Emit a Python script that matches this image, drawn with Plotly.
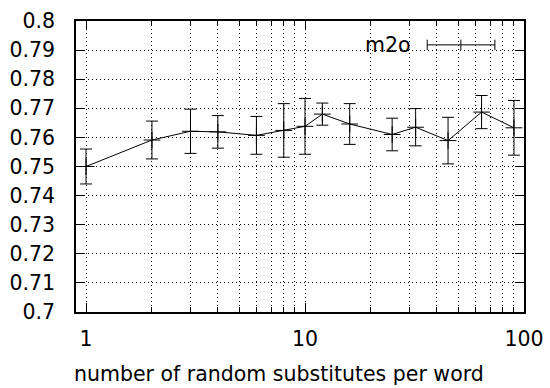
import plotly.graph_objects as go
import math

# data
substitutes = [1, 2, 3, 4, 6, 8, 10, 12, 16, 25, 32, 45, 64, 90]
m2o = [0.7500, 0.7591, 0.7621, 0.7619, 0.7607, 0.7624, 0.7638, 0.7680,
       0.7646, 0.7610, 0.7635, 0.7589, 0.7687, 0.7633]
m2o_err = [0.0060, 0.0065, 0.0076, 0.0056, 0.0065, 0.0092, 0.0096, 0.0038,
           0.0070, 0.0056, 0.0064, 0.0080, 0.0057, 0.0094]

y_ticks = [round(0.70 + 0.01 * i, 2) for i in range(11)]
y_labels = ["0.7", "0.71", "0.72", "0.73", "0.74", "0.75", "0.76", "0.77",
            "0.78", "0.79", "0.8"]
x_ticks = [1, 10, 100]
x_labels = ["1", "10", "100"]
x_minor = [2, 3, 4, 5, 6, 7, 8, 9, 20, 30, 40, 50, 60, 70, 80, 90]
x_title = "number of random substitutes per word"
series_name = "m2o"

FONT = "DejaVu Sans"
FS = 20.5
DOT = "1px,3px"

fig = go.Figure()
fig.add_trace(go.Scatter(
    x=substitutes, y=m2o, mode="lines+markers", name=series_name,
    line=dict(color="black", width=1),
    marker=dict(symbol="cross-thin", size=12, color="black",
                line=dict(color="black", width=1)),
    error_y=dict(type="data", array=m2o_err, visible=True,
                 color="black", thickness=1, width=6),
    showlegend=False,
))

fig.update_layout(
    width=550, height=388,
    margin=dict(l=76, r=26, t=21, b=76),
    paper_bgcolor="white", plot_bgcolor="white",
    font=dict(family=FONT, size=FS, color="black"),
)

fig.update_xaxes(
    type="log", range=[math.log10(0.9), 2], automargin=False,
    tickmode="array", tickvals=x_ticks, ticktext=x_labels,
    ticks="inside", ticklen=9, tickwidth=1, tickcolor="black",
    showline=True, linecolor="black", linewidth=1.5, mirror="allticks",
    showgrid=True, gridcolor="black", gridwidth=1, griddash=DOT,
    minor=dict(tickmode="array", tickvals=x_minor, ticks="inside",
               ticklen=5, tickwidth=1, tickcolor="black",
               showgrid=True, gridcolor="black", gridwidth=1, griddash=DOT),
    ticklabelstandoff=8,
    zeroline=False,
)
fig.update_yaxes(
    range=[0.7, 0.8], automargin=False,
    tickmode="array", tickvals=y_ticks, ticktext=y_labels,
    ticks="inside", ticklen=9, tickwidth=1, tickcolor="black",
    showline=True, linecolor="black", linewidth=1.5, mirror="allticks",
    showgrid=True, gridcolor="black", gridwidth=1, griddash=DOT,
    ticklabelstandoff=15,
    zeroline=False,
)

# x-axis label (gnuplot centres it slightly left of the plot centre)
fig.add_annotation(xref="paper", yref="paper", x=0.453, y=-0.213,
                   text=x_title, showarrow=False, xanchor="center",
                   yanchor="middle", font=dict(family=FONT, size=FS))

# gnuplot-style key: text on the left, errorbar sample on the right
key_y = 0.918
fig.add_annotation(xref="paper", yref="paper", x=0.752, y=key_y,
                   text=series_name, showarrow=False, xanchor="right",
                   yanchor="middle", font=dict(family=FONT, size=FS))
x0, x1, xc = 0.784, 0.935, 0.859
cap = 0.018
fig.add_shape(type="line", xref="paper", yref="paper",
              x0=x0, x1=x1, y0=key_y, y1=key_y,
              line=dict(color="black", width=1))
for xx in (x0, x1, xc):
    fig.add_shape(type="line", xref="paper", yref="paper",
                  x0=xx, x1=xx, y0=key_y - cap, y1=key_y + cap,
                  line=dict(color="black", width=1))

fig.write_html("out.html")
